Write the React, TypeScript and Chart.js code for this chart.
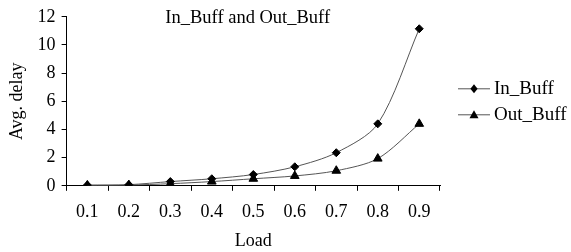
import React, { useEffect, useRef } from "react";
import { Chart, registerables } from "chart.js";

Chart.register(...registerables);

const categories = ["0.1", "0.2", "0.3", "0.4", "0.5", "0.6", "0.7", "0.8", "0.9"];
const inBuff = [0.05, 0.08, 0.3, 0.5, 0.8, 1.35, 2.35, 4.4, 11.15];
const outBuff = [0.03, 0.05, 0.15, 0.3, 0.5, 0.7, 1.07, 1.93, 4.4];
const seriesNames = ["In_Buff", "Out_Buff"];
const chartTitle = "In_Buff and Out_Buff";
const yTitle = "Avg. delay";
const xTitle = "Load";

const FONT = "'Liberation Serif', 'Times New Roman', serif";

const overlayPlugin = {
  id: "overlay",
  afterDraw(chart: any) {
    const ctx = chart.ctx;
    const area = chart.chartArea;
    ctx.save();
    ctx.fillStyle = "#000";
    ctx.font = `18.5px ${FONT}`;
    ctx.textAlign = "center";
    ctx.textBaseline = "middle";
    ctx.fillText(chartTitle, area.left + (area.right - area.left) * 0.485, area.top + 1);
    // legend
    const lx0 = area.right + 18;
    const lx1 = area.right + 50;
    const ys = [area.top + 72, area.top + 98];
    chart.data.datasets.forEach((ds: any, i: number) => {
      const y = ys[i];
      ctx.strokeStyle = "#555";
      ctx.lineWidth = 1;
      ctx.beginPath();
      ctx.moveTo(lx0, y);
      ctx.lineTo(lx1, y);
      ctx.stroke();
      ctx.fillStyle = "#000";
      const cx = (lx0 + lx1) / 2;
      const r = 4.5;
      ctx.beginPath();
      if (ds.pointStyle === "rectRot") {
        ctx.moveTo(cx, y - r);
        ctx.lineTo(cx + r * 0.8, y);
        ctx.lineTo(cx, y + r);
        ctx.lineTo(cx - r * 0.8, y);
      } else {
        ctx.moveTo(cx, y - r);
        ctx.lineTo(cx + r, y + r * 0.75);
        ctx.lineTo(cx - r, y + r * 0.75);
      }
      ctx.closePath();
      ctx.fill();
      ctx.textAlign = "left";
      ctx.font = `19px ${FONT}`;
      ctx.fillText(ds.label, lx1 + 4, y);
    });
    ctx.restore();
  },
};

export default function App() {
  const ref = useRef<HTMLCanvasElement>(null);
  useEffect(() => {
    if (!ref.current) return;
    const chart = new Chart(ref.current, {
      type: "line",
      data: {
        labels: categories,
        datasets: [
          {
            label: seriesNames[0],
            data: inBuff,
            borderColor: "#555",
            borderWidth: 1,
            backgroundColor: "#000",
            pointBackgroundColor: "#000",
            pointBorderColor: "#000",
            pointStyle: "rectRot",
            pointRadius: 4,
            tension: 0.3,
          },
          {
            label: seriesNames[1],
            data: outBuff,
            borderColor: "#555",
            borderWidth: 1,
            backgroundColor: "#000",
            pointBackgroundColor: "#000",
            pointBorderColor: "#000",
            pointStyle: "triangle",
            pointRadius: 5,
            tension: 0.3,
          },
        ],
      },
      options: {
        animation: false,
        responsive: false,
        layout: { padding: { top: 8, right: 131, left: 6, bottom: 0 } },
        plugins: {
          legend: { display: false },
          title: { display: false },
          tooltip: { enabled: false },
        },
        scales: {
          x: {
            type: "category",
            offset: true,
            grid: {
              offset: true,
              drawOnChartArea: false,
              drawTicks: true,
              tickLength: 5,
              color: "#000",
            },
            border: { display: true, color: "#000" },
            ticks: { color: "#000", font: { family: FONT, size: 18 }, padding: 11, maxRotation: 0 },
            title: { display: true, text: xTitle, color: "#000", font: { family: FONT, size: 18 }, padding: { top: -4, bottom: 0 } },
          },
          y: {
            min: 0,
            max: 12,
            ticks: { stepSize: 2, color: "#000", font: { family: FONT, size: 18 }, padding: 6 },
            grid: { drawOnChartArea: false, drawTicks: true, tickLength: 5, color: "#000" },
            border: { display: true, color: "#000" },
            title: { display: true, text: yTitle, color: "#000", font: { family: FONT, size: 18 }, padding: { top: 0, bottom: 4 } },
          },
        },
      },
      plugins: [overlayPlugin],
    });
    return () => chart.destroy();
  }, []);
  return (
    <div style={{ position: "fixed", left: 0, top: 0, width: 571, height: 252, background: "#fff" }}>
      <canvas ref={ref} width={571} height={252} style={{ width: 571, height: 252 }} />
    </div>
  );
}
